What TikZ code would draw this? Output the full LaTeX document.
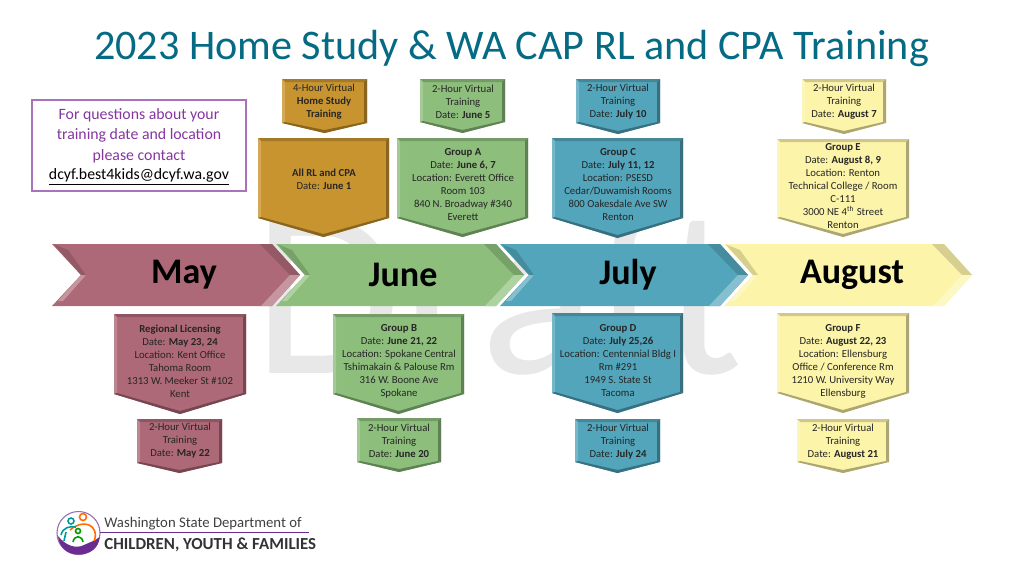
\documentclass[tikz,border=0pt]{standalone}
\usepackage{fontspec}
\setmainfont{Carlito}
\usepackage{tikz}

\definecolor{rosebox}{HTML}{AD6977}
\definecolor{greenbox}{HTML}{8DBE7C}
\definecolor{tealbox}{HTML}{52A5BB}
\definecolor{yellowbox}{HTML}{FCF4A9}
\definecolor{orangebox}{HTML}{C8942F}
\definecolor{titleblue}{HTML}{056A84}
\definecolor{askpurple}{HTML}{8437A0}
\definecolor{logopurple}{HTML}{6B2C91}

\tikzset{
  boxtext/.style={align=center,font=\fontsize{6.1}{7.4}\selectfont,text=black!85,inner sep=0pt},
  monthtext/.style={font=\fontsize{20.5}{24}\selectfont\bfseries,inner sep=0pt},
  asktext/.style={align=center,font=\fontsize{9}{11.7}\selectfont,text=askpurple,inner sep=0pt}
}

% centre x, half width, top, shoulder, tip, colour
\newcommand{\downbox}[6]{
  \fill[#6] (#1-#2,#3) -- (#1+#2,#3) -- (#1+#2,#4) -- (#1,#5) -- (#1-#2,#4) -- cycle;
  \fill[#6!82!black] (#1-#2,#3) -- (#1+#2,#3) -- (#1+#2-3,#3+3) -- (#1-#2+3,#3+3) -- cycle;
  \fill[#6!80!white] (#1-#2,#3) -- (#1-#2+3,#3+3) -- (#1-#2+3,#4-1) -- (#1-#2,#4) -- cycle;
  \fill[#6!68!black] (#1+#2,#3) -- (#1+#2-3,#3+3) -- (#1+#2-3,#4-1) -- (#1+#2,#4) -- cycle;
  \fill[#6!68!black] (#1-#2,#4) -- (#1-#2+3,#4-1) -- (#1,#5-3) -- (#1+#2-3,#4-1) -- (#1+#2,#4) -- (#1,#5) -- cycle;
}

% left x, colour
\newcommand{\monthband}[2]{
  \fill[#2] (#1,244) -- (#1+220,244) -- (#1+248,275) -- (#1+220,306) -- (#1,306) -- (#1+29,275) -- cycle;
  \fill[#2!85!black] (#1+208,244) -- (#1+220,244) -- (#1+248,275) -- (#1+238,275) -- cycle;
  \fill[#2!70!white] (#1+238,275) -- (#1+248,275) -- (#1+220,306) -- (#1+209,306) -- cycle;
  \fill[#2!70!white] (#1+29,275) -- (#1+34,275) -- (#1+11,301) -- (#1+6,301) -- cycle;
  \fill[#2!85!black] (#1+2,244.5) -- (#1+16,250) -- (#1+34,275) -- (#1+29,275) -- cycle;
}

\begin{document}
\begin{tikzpicture}[x=0.02cm,y=-0.02cm]
  \useasboundingbox (0,0) rectangle (1024,576);

  % watermark
  \node[anchor=base west,inner sep=0pt,text=black!9,font=\fontsize{137}{137}\selectfont] (draft) at (253,373) {Draft};

  % heading
  \node[text=titleblue,font=\fontsize{24}{28}\selectfont,inner sep=0pt] (heading) at (511.5,48) {2023 Home Study \& WA CAP RL and CPA Training};

  % contact
  \draw[askpurple!70,line width=0.8pt,fill=white] (32,100) rectangle (246,191);
  \node[asktext] (ask) at (139,135.5) {For questions about your\\training date and location\\please contact};
  \node[inner sep=0pt,font=\fontsize{9}{11.7}\selectfont] (mail) at (139,177) {\underline{dcyf.best4kids@dcyf.wa.gov}};

  % months
  \monthband{52}{rosebox}
  \monthband{276}{greenbox}
  \monthband{500}{tealbox}
  \monthband{724}{yellowbox}
  \node[monthtext] (may) at (184,275) {May};
  \node[monthtext] (june) at (403,275) {June};
  \node[monthtext] (july) at (628,275) {July};
  \node[monthtext] (august) at (852,275) {August};

  % upper row
  \downbox{324.5}{42.5}{79}{123}{133}{orangebox}
  \downbox{462.5}{42.5}{79}{122}{133}{greenbox}
  \downbox{618}{42}{79}{123}{134}{tealbox}
  \downbox{844}{42}{79}{123}{134}{yellowbox}
  \downbox{323.5}{65.5}{138}{218}{237}{orangebox}
  \downbox{462.5}{65.5}{138}{218}{237}{greenbox}
  \downbox{617.5}{65.5}{138}{218}{238}{tealbox}
  \downbox{843}{66}{139}{218}{237}{yellowbox}

  \node[boxtext] (homestudy) at (324,102) {4-Hour Virtual\\\textbf{Home Study}\\\textbf{Training}};
  \node[boxtext] (junefive) at (463,102) {2-Hour Virtual\\Training\\Date: \textbf{June 5}};
  \node[boxtext] (julyten) at (618,102) {2-Hour Virtual\\Training\\Date: \textbf{July 10}};
  \node[boxtext] (augseven) at (844,102) {2-Hour Virtual\\Training\\Date: \textbf{August 7}};
  \node[boxtext] (allrl) at (324,179) {\textbf{All RL and CPA}\\Date: \textbf{June 1}};
  \node[boxtext] (groupa) at (463,185) {\textbf{Group A}\\Date: \textbf{June 6, 7}\\Location: Everett Office\\Room 103\\840 N. Broadway \#340\\Everett};
  \node[boxtext] (groupc) at (618,185) {\textbf{Group C}\\Date: \textbf{July 11, 12}\\Location: PSESD\\Cedar/Duwamish Rooms\\800 Oakesdale Ave SW\\Renton};
  \node[boxtext] (groupe) at (843,186.5) {\textbf{Group E}\\Date: \textbf{August 8, 9}\\Location: Renton\\Technical College / Room\\C-111\\3000 NE 4\textsuperscript{th} Street\\Renton};

  % lower row
  \downbox{180}{66}{314}{394}{414}{rosebox}
  \downbox{398.5}{65.5}{314}{394}{414}{greenbox}
  \downbox{617.5}{65.5}{313}{393}{413}{tealbox}
  \downbox{843}{66}{313}{393}{413}{yellowbox}
  \downbox{179.5}{42.5}{419}{463}{473}{rosebox}
  \downbox{399}{42}{418}{462}{472}{greenbox}
  \downbox{617.5}{42.5}{419}{462}{473}{tealbox}
  \downbox{843}{46}{419}{462}{473}{yellowbox}

  \node[boxtext] (regional) at (180,361.5) {\textbf{Regional Licensing}\\Date: \textbf{May 23, 24}\\Location: Kent Office\\Tahoma Room\\1313 W. Meeker St \#102\\Kent};
  \node[boxtext] (groupb) at (399,361.5) {\textbf{Group B}\\Date: \textbf{June 21, 22}\\Location: Spokane Central\\Tshimakain \& Palouse Rm\\316 W. Boone Ave\\Spokane};
  \node[boxtext] (groupd) at (618,361) {\textbf{Group D}\\Date: \textbf{July 25,26}\\Location: Centennial Bldg I\\Rm \#291\\1949 S. State St\\Tacoma};
  \node[boxtext] (groupf) at (843,361) {\textbf{Group F}\\Date: \textbf{August 22, 23}\\Location: Ellensburg\\Office / Conference Rm\\1210 W. University Way\\Ellensburg};
  \node[boxtext] (mayvirtual) at (180,441) {2-Hour Virtual\\Training\\Date: \textbf{May 22}};
  \node[boxtext] (junevirtual) at (399,441) {2-Hour Virtual\\Training\\Date: \textbf{June 20}};
  \node[boxtext] (julyvirtual) at (618,441.5) {2-Hour Virtual\\Training\\Date: \textbf{July 24}};
  \node[boxtext] (augvirtual) at (843,441.5) {2-Hour Virtual\\Training\\Date: \textbf{August 21}};

  % logo
  \draw[logopurple!70,line width=0.6pt,fill=white] (78.5,533) circle (21.5);
  \fill[logopurple] (58,536) .. controls (66,546) and (76,549) .. (84,545) .. controls (90,542) and (95,541) .. (99.5,537) .. controls (99,549) and (89,554.5) .. (78.5,554.5) .. controls (67,554.5) and (59,547) .. (58,536);
  \draw[orange!85!red,line width=0.9pt] (83,517) circle (3.5);
  \draw[orange!85!red,line width=0.9pt] (70,530) .. controls (78,523) and (88,522) .. (93,528) .. controls (96,532) and (96,537) .. (94,541);
  \draw[teal!80!cyan,line width=0.9pt] (71,521) circle (3);
  \draw[teal!80!cyan,line width=0.9pt] (61,535) .. controls (63,527) and (70,526) .. (76,527);
  \draw[teal!80!cyan,line width=0.9pt] (66,532) -- (64,541);
  \draw[green!60!black,line width=0.9pt] (78,531) circle (2.5);
  \draw[green!60!black,line width=0.9pt] (73,542) .. controls (74,535) and (82,535) .. (83,542);
  \node[anchor=base west,inner sep=0pt,text=black!75,font=\fontsize{8.4}{10}\selectfont] (dept) at (104,527.5) {Washington State Department of};
  \draw[logopurple,line width=0.5pt] (100,532) -- (309,532);
  \node[anchor=base west,inner sep=0pt,text=black!80,font=\fontsize{9.6}{11}\selectfont\bfseries] (cyf) at (104,549.5) {CHILDREN, YOUTH \& FAMILIES};
\end{tikzpicture}
\end{document}
